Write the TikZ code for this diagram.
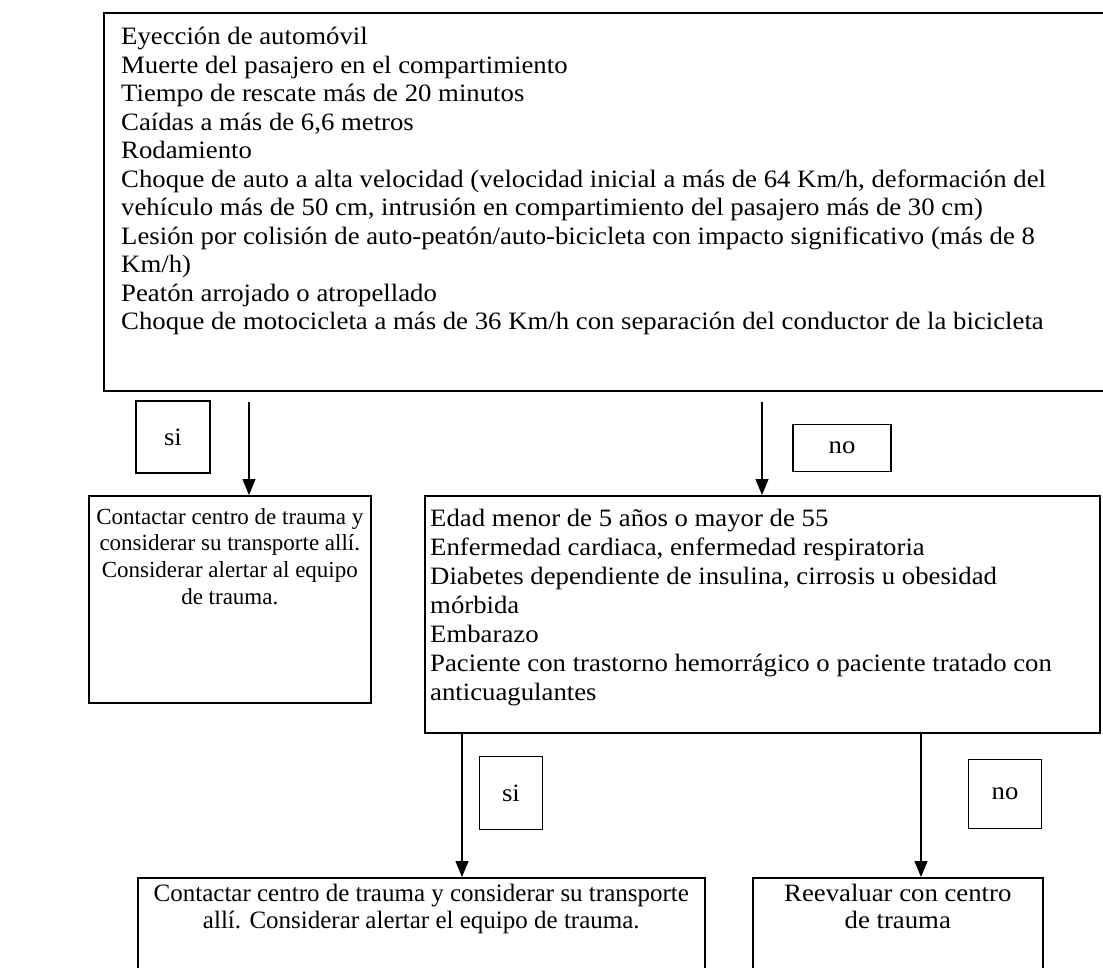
\documentclass[tikz,border=0pt]{standalone}
\usepackage{fontspec}
\setmainfont{Liberation Serif}
\newfontfamily\widefont[FakeStretch=1.07]{Liberation Serif}
\usetikzlibrary{arrows.meta, positioning}

\begin{document}
\begin{tikzpicture}[
    x=1pt, y=-1pt, >={Triangle[width=13pt,length=16pt]},
    box/.style={draw, line width=1.6pt, anchor=north west, inner sep=0pt},
    answer/.style={draw, line width=1.4pt, inner sep=0pt,
                   font=\widefont\fontsize{25}{28}\selectfont},
    listtext/.style={anchor=north west, inner sep=0pt, align=left,
                     font=\widefont\fontsize{25}{28.5}\selectfont},
    ctext/.style={anchor=north, inner sep=0pt, align=center,
                  font=\fontsize{25}{26.5}\selectfont},
    flow/.style={->, line width=1.2pt}
  ]
  \useasboundingbox (0,0) rectangle (1103,968);
  \clip (0,0) rectangle (1103,968);

  % boxes
  \node[box, minimum width=1012pt, minimum height=378pt] (crit) at (103,12) {};
  \node[box, minimum width=282pt, minimum height=207pt] (contact) at (88,495) {};
  \node[box, minimum width=675pt, minimum height=237pt] (risk) at (424,495) {};
  \node[box, minimum width=567pt, minimum height=150pt] (contactb) at (137,877) {};
  \node[box, minimum width=290pt, minimum height=150pt] (reeval) at (752,877) {};

  % texts
  \node[listtext, below right=15pt and 18pt of crit.north west] (crittext)
    {Eyección de automóvil\\
     Muerte del pasajero en el compartimiento\\
     Tiempo de rescate más de 20 minutos\\
     Caídas a más de 6,6 metros\\
     Rodamiento\\
     Choque de auto a alta velocidad (velocidad inicial a más de 64 Km/h, deformación del\\
     vehículo más de 50 cm, intrusión en compartimiento del pasajero más de 30 cm)\\
     Lesión por colisión de auto-peatón/auto-bicicleta con impacto significativo (más de 8\\
     Km/h)\\
     Peatón arrojado o atropellado\\
     Choque de motocicleta a más de 36 Km/h con separación del conductor de la bicicleta};
  \node[ctext, font=\fontsize{23}{26.7}\selectfont,
        below=13pt of contact.north] (contacttext)
    {Contactar centro de trauma y\\
     considerar su transporte allí.\\
     Considerar alertar al equipo\\
     de trauma.};
  \node[listtext, font=\widefont\fontsize{25}{29}\selectfont,
        below right=14pt and 6pt of risk.north west] (risktext)
    {Edad menor de 5 años o mayor de 55\\
     Enfermedad cardiaca, enfermedad respiratoria\\
     Diabetes dependiente de insulina, cirrosis u obesidad\\
     mórbida\\
     Embarazo\\
     Paciente con trastorno hemorrágico o paciente tratado con\\
     anticuagulantes};
  \node[ctext, below=7pt of contactb.north] (contactbtext)
    {Contactar centro de trauma y considerar su transporte\\
     allí. Considerar alertar el equipo de trauma.};
  \node[ctext, font=\widefont\fontsize{25}{26.5}\selectfont,
        below=7pt of reeval.north] (reevaltext)
    {Reevaluar con centro\\
     de trauma};

  % answers
  \node[answer, minimum width=74pt, minimum height=72pt] (si1) at (173,437) {si};
  \node[answer, minimum width=98pt, minimum height=47pt] (no1) at (842,448) {no};
  \node[answer, minimum width=63pt, minimum height=73pt] (si2) at (511,793) {si};
  \node[answer, minimum width=73pt, minimum height=69pt] (no2) at (1005,794) {no};

  % arrows
  \coordinate (s1) at (249,402);
  \coordinate (n1) at (762,402);
  \coordinate (s2) at (462,0);
  \coordinate (n2) at (921,0);
  \draw[flow] (s1) -- (s1 |- contact.north);
  \draw[flow] (n1) -- (n1 |- risk.north);
  \draw[flow] (s2 |- risk.south) -- (s2 |- contactb.north);
  \draw[flow] (n2 |- risk.south) -- (n2 |- reeval.north);
\end{tikzpicture}
\end{document}
